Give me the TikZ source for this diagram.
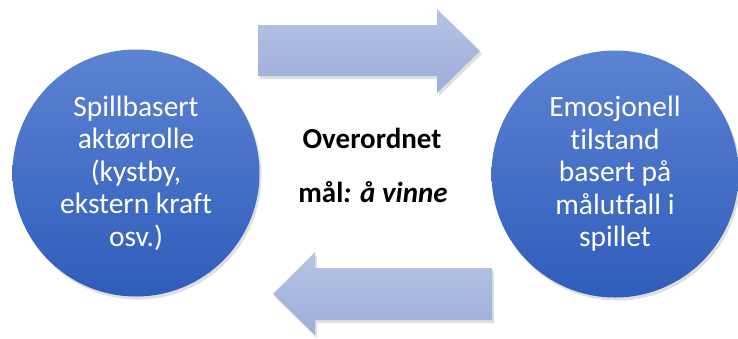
\documentclass[tikz,border=0pt]{standalone}
\usepackage{fontspec}
\setmainfont{Carlito}[Ligatures=NoCommon]
\usetikzlibrary{shadows}
\definecolor{ballTop}{HTML}{5C82D2}
\definecolor{ballBot}{HTML}{2F5DBB}
\definecolor{arrTop}{HTML}{B5C3E5}
\definecolor{arrBot}{HTML}{9CADD8}
\tikzset{
  ball/.style={circle, minimum size=247pt, inner sep=0pt, align=center,
    text=white, top color=ballTop, bottom color=ballBot,
    font=\fontsize{29.5}{32.5}\selectfont,
    drop shadow={opacity=0.25, shadow xshift=2pt, shadow yshift=-3pt}},
  flow/.style={top color=arrTop, bottom color=arrBot,
    drop shadow={opacity=0.25, shadow xshift=2pt, shadow yshift=-3pt}},
  goal/.style={font=\fontsize{29}{32}\selectfont\bfseries, anchor=center}
}
\begin{document}
\begin{tikzpicture}[x=1pt, y=-1pt]
  \useasboundingbox (0,0) rectangle (738,338);
  % role and emotional state
  \node[ball] (role) at (136,173) {Spillbasert\\aktørrolle\\(kystby,\\ekstern kraft\\osv.)};
  \node[ball] (state) at (615,174) {Emosjonell\\tilstand\\basert på\\målutfall i\\spillet};
  % block arrows between them
  \path[flow] (258,25) -- (437,25) -- (437,9) -- (480,51) -- (437,93)
    -- (437,76) -- (258,76) -- cycle;
  \path[flow] (492,268) -- (315,268) -- (315,252) -- (273,294) -- (315,335)
    -- (315,320) -- (492,320) -- cycle;
  % overall goal in the middle
  \node[goal] (goalA) at (372,138) {Overordnet};
  \node[goal] (goalB) at (373,192) {mål\textit{: å vinne}};
\end{tikzpicture}
\end{document}
